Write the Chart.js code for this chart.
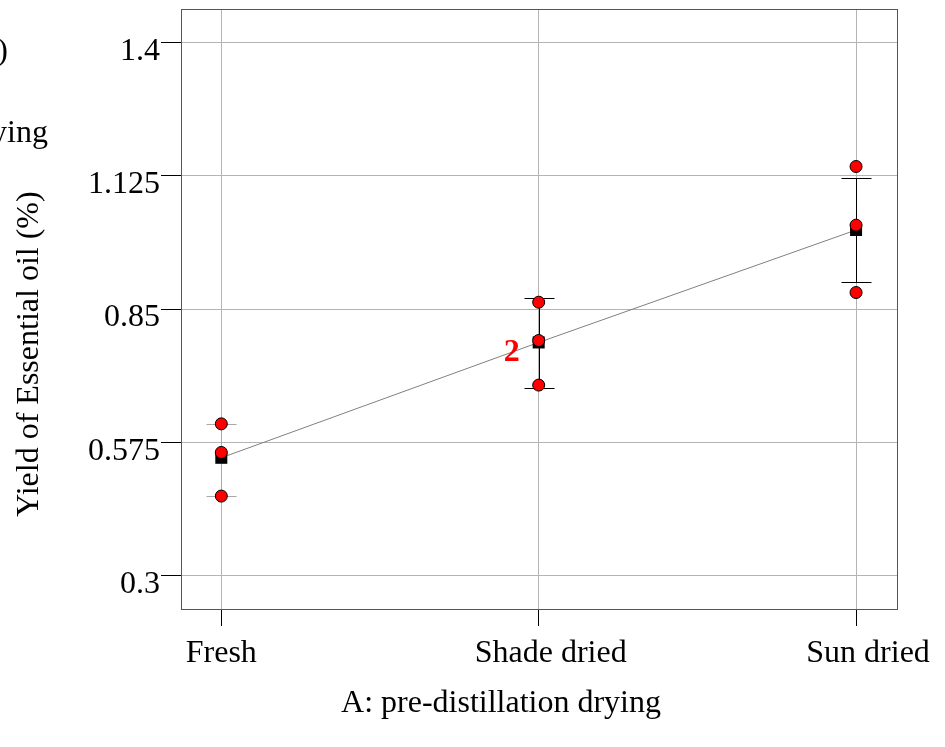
<!DOCTYPE html>
<html>
<head>
<meta charset="utf-8">
<title>Yield of Essential oil</title>
<script src="https://cdn.jsdelivr.net/npm/chart.js@4.4.1/dist/chart.umd.min.js"></script>
<style>
    html, body { margin: 0; padding: 0; background: #fff; }
    #wrap { width: 945px; height: 747px; }
</style>
</head>
<body>
<div id="wrap"><canvas id="yieldChart" width="945" height="747"></canvas></div>
<script>
// --- data ---
const categories = ['Fresh', 'Shade dried', 'Sun dried'];
const predicted = [0.543, 0.781, 1.013];          // black squares / model line
const runsTop = [0.613, 0.864, 1.144];            // red design points
const runsMid = [0.554, 0.785, 1.023];
const runsLow = [0.464, 0.693, 0.884];
const barLow = [0.464, 0.686, 0.905];             // LSD bars
const barHigh = [0.613, 0.872, 1.120];
const pointCounts = ['', '2', ''];                // replicate labels next to mid points
const yTicks = [0.3, 0.575, 0.85, 1.125, 1.4];
const yTickLabels = ['0.3', '0.575', '0.85', '1.125', '1.4'];

const FONT = 'Liberation Serif, Times New Roman, serif';

document.addEventListener('DOMContentLoaded', function () {
    const ctx = document.getElementById('yieldChart').getContext('2d');

    const redPoints = [];
    categories.forEach(function (c, i) {
        redPoints.push({ x: i, y: runsTop[i] });
        redPoints.push({ x: i, y: runsMid[i] });
        redPoints.push({ x: i, y: runsLow[i] });
    });

    // frame, error bars, labels and the cut-off legend text
    const extras = {
        id: 'extras',
        beforeDatasetsDraw(chart) {
            const c = chart.ctx;
            const xs = chart.scales.x, ys = chart.scales.y;
            c.save();
            c.lineWidth = 1;
            categories.forEach(function (cat, i) {
                const px = Math.round(xs.getPixelForValue(i)) + 0.5;
                const y1 = Math.round(ys.getPixelForValue(barHigh[i])) + 0.5;
                const y2 = Math.round(ys.getPixelForValue(barLow[i])) + 0.5;
                c.strokeStyle = i === 0 ? '#a8a8a8' : '#000';
                c.beginPath();
                c.moveTo(px, y1); c.lineTo(px, y2);
                c.moveTo(px - 15, y1); c.lineTo(px + 15, y1);
                c.moveTo(px - 15, y2); c.lineTo(px + 15, y2);
                c.stroke();
            });
            c.restore();
        },
        afterDatasetsDraw(chart) {
            const c = chart.ctx;
            const xs = chart.scales.x, ys = chart.scales.y;
            const a = chart.chartArea;
            c.save();
            // plot frame
            c.strokeStyle = '#555';
            c.lineWidth = 1;
            c.strokeRect(Math.round(a.left) + 0.5, Math.round(a.top) + 0.5,
                Math.round(a.right - a.left), Math.round(a.bottom - a.top));
            // replicate count labels
            c.fillStyle = '#ff0000';
            c.font = 'bold 32px ' + FONT;
            c.textAlign = 'right';
            c.textBaseline = 'alphabetic';
            pointCounts.forEach(function (lbl, i) {
                if (!lbl) return;
                const px = xs.getPixelForValue(i);
                const py = ys.getPixelForValue(runsMid[i]);
                c.fillText(lbl, px - 19, py + 20);
            });
            c.restore();
        },
        afterDraw(chart) {
            const c = chart.ctx;
            c.save();
            c.fillStyle = '#000';
            c.font = '32px ' + FONT;
            c.textBaseline = 'alphabetic';
            // axis titles
            c.textAlign = 'center';
            c.fillText('A: pre-distillation drying', 501, 712);
            c.translate(38, 354);
            c.rotate(-Math.PI / 2);
            c.fillText('Yield of Essential oil (%)', 0, 0);
            c.restore();
            // legend text that runs off the left edge
            c.save();
            c.fillStyle = '#000';
            c.font = '32px ' + FONT;
            c.textAlign = 'right';
            c.fillText('(%)', 8, 60);
            c.fillText('drying', 48, 142);
            c.restore();
        }
    };

    new Chart(ctx, {
        type: 'scatter',
        data: {
            datasets: [{
                label: 'Design points',
                data: redPoints,
                backgroundColor: '#ff0000',
                borderColor: '#000',
                borderWidth: 1,
                pointRadius: 6,
                order: 0
            }, {
                label: 'Predicted',
                data: predicted.map(function (v, i) { return { x: i, y: v }; }),
                showLine: true,
                borderColor: '#808080',
                borderWidth: 1,
                backgroundColor: '#000',
                pointStyle: 'rect',
                pointRadius: 8.5,
                pointBorderColor: '#000',
                pointBorderWidth: 0,
                order: 1
            }]
        },
        options: {
            responsive: false,
            animation: false,
            events: [],
            layout: { padding: { top: 9, right: 48, left: 0, bottom: 0 } },
            plugins: { legend: { display: false }, tooltip: { enabled: false } },
            scales: {
                x: {
                    type: 'linear',
                    min: -0.127,
                    max: 2.129,
                    afterBuildTicks(scale) {
                        scale.ticks = categories.map(function (c, i) { return { value: i }; });
                    },
                    afterFit(scale) {
                        scale.height = 138;
                        scale.paddingLeft = 0;
                        scale.paddingRight = 0;
                    },
                    border: { display: false },
                    grid: { color: '#b4b4b4', tickColor: '#000', tickLength: 17, lineWidth: 1 },
                    ticks: {
                        font: { family: FONT, size: 32 },
                        color: '#000',
                        padding: 8,
                        maxRotation: 0,
                        callback: function (v) {
                            const i = Math.round(v);
                            // the two longer labels sit a little right of their tick in the original
                            return (i > 0 ? '\u00a0\u00a0\u00a0' : '') + categories[i];
                        }
                    }
                },
                y: {
                    type: 'linear',
                    min: 0.231,
                    max: 1.469,
                    afterBuildTicks(scale) {
                        scale.ticks = yTicks.map(function (v) { return { value: v }; });
                    },
                    afterFit(scale) {
                        scale.width = 181;
                        scale.paddingTop = 0;
                        scale.paddingBottom = 0;
                    },
                    border: { display: false },
                    grid: { color: '#b4b4b4', tickColor: '#000', tickLength: 20, lineWidth: 1 },
                    ticks: {
                        font: { family: FONT, size: 32 },
                        color: '#000',
                        padding: 1,
                        labelOffset: 9,
                        callback: function (v, idx) { return yTickLabels[idx]; }
                    }
                }
            }
        },
        plugins: [extras]
    });
});
</script>
</body>
</html>
